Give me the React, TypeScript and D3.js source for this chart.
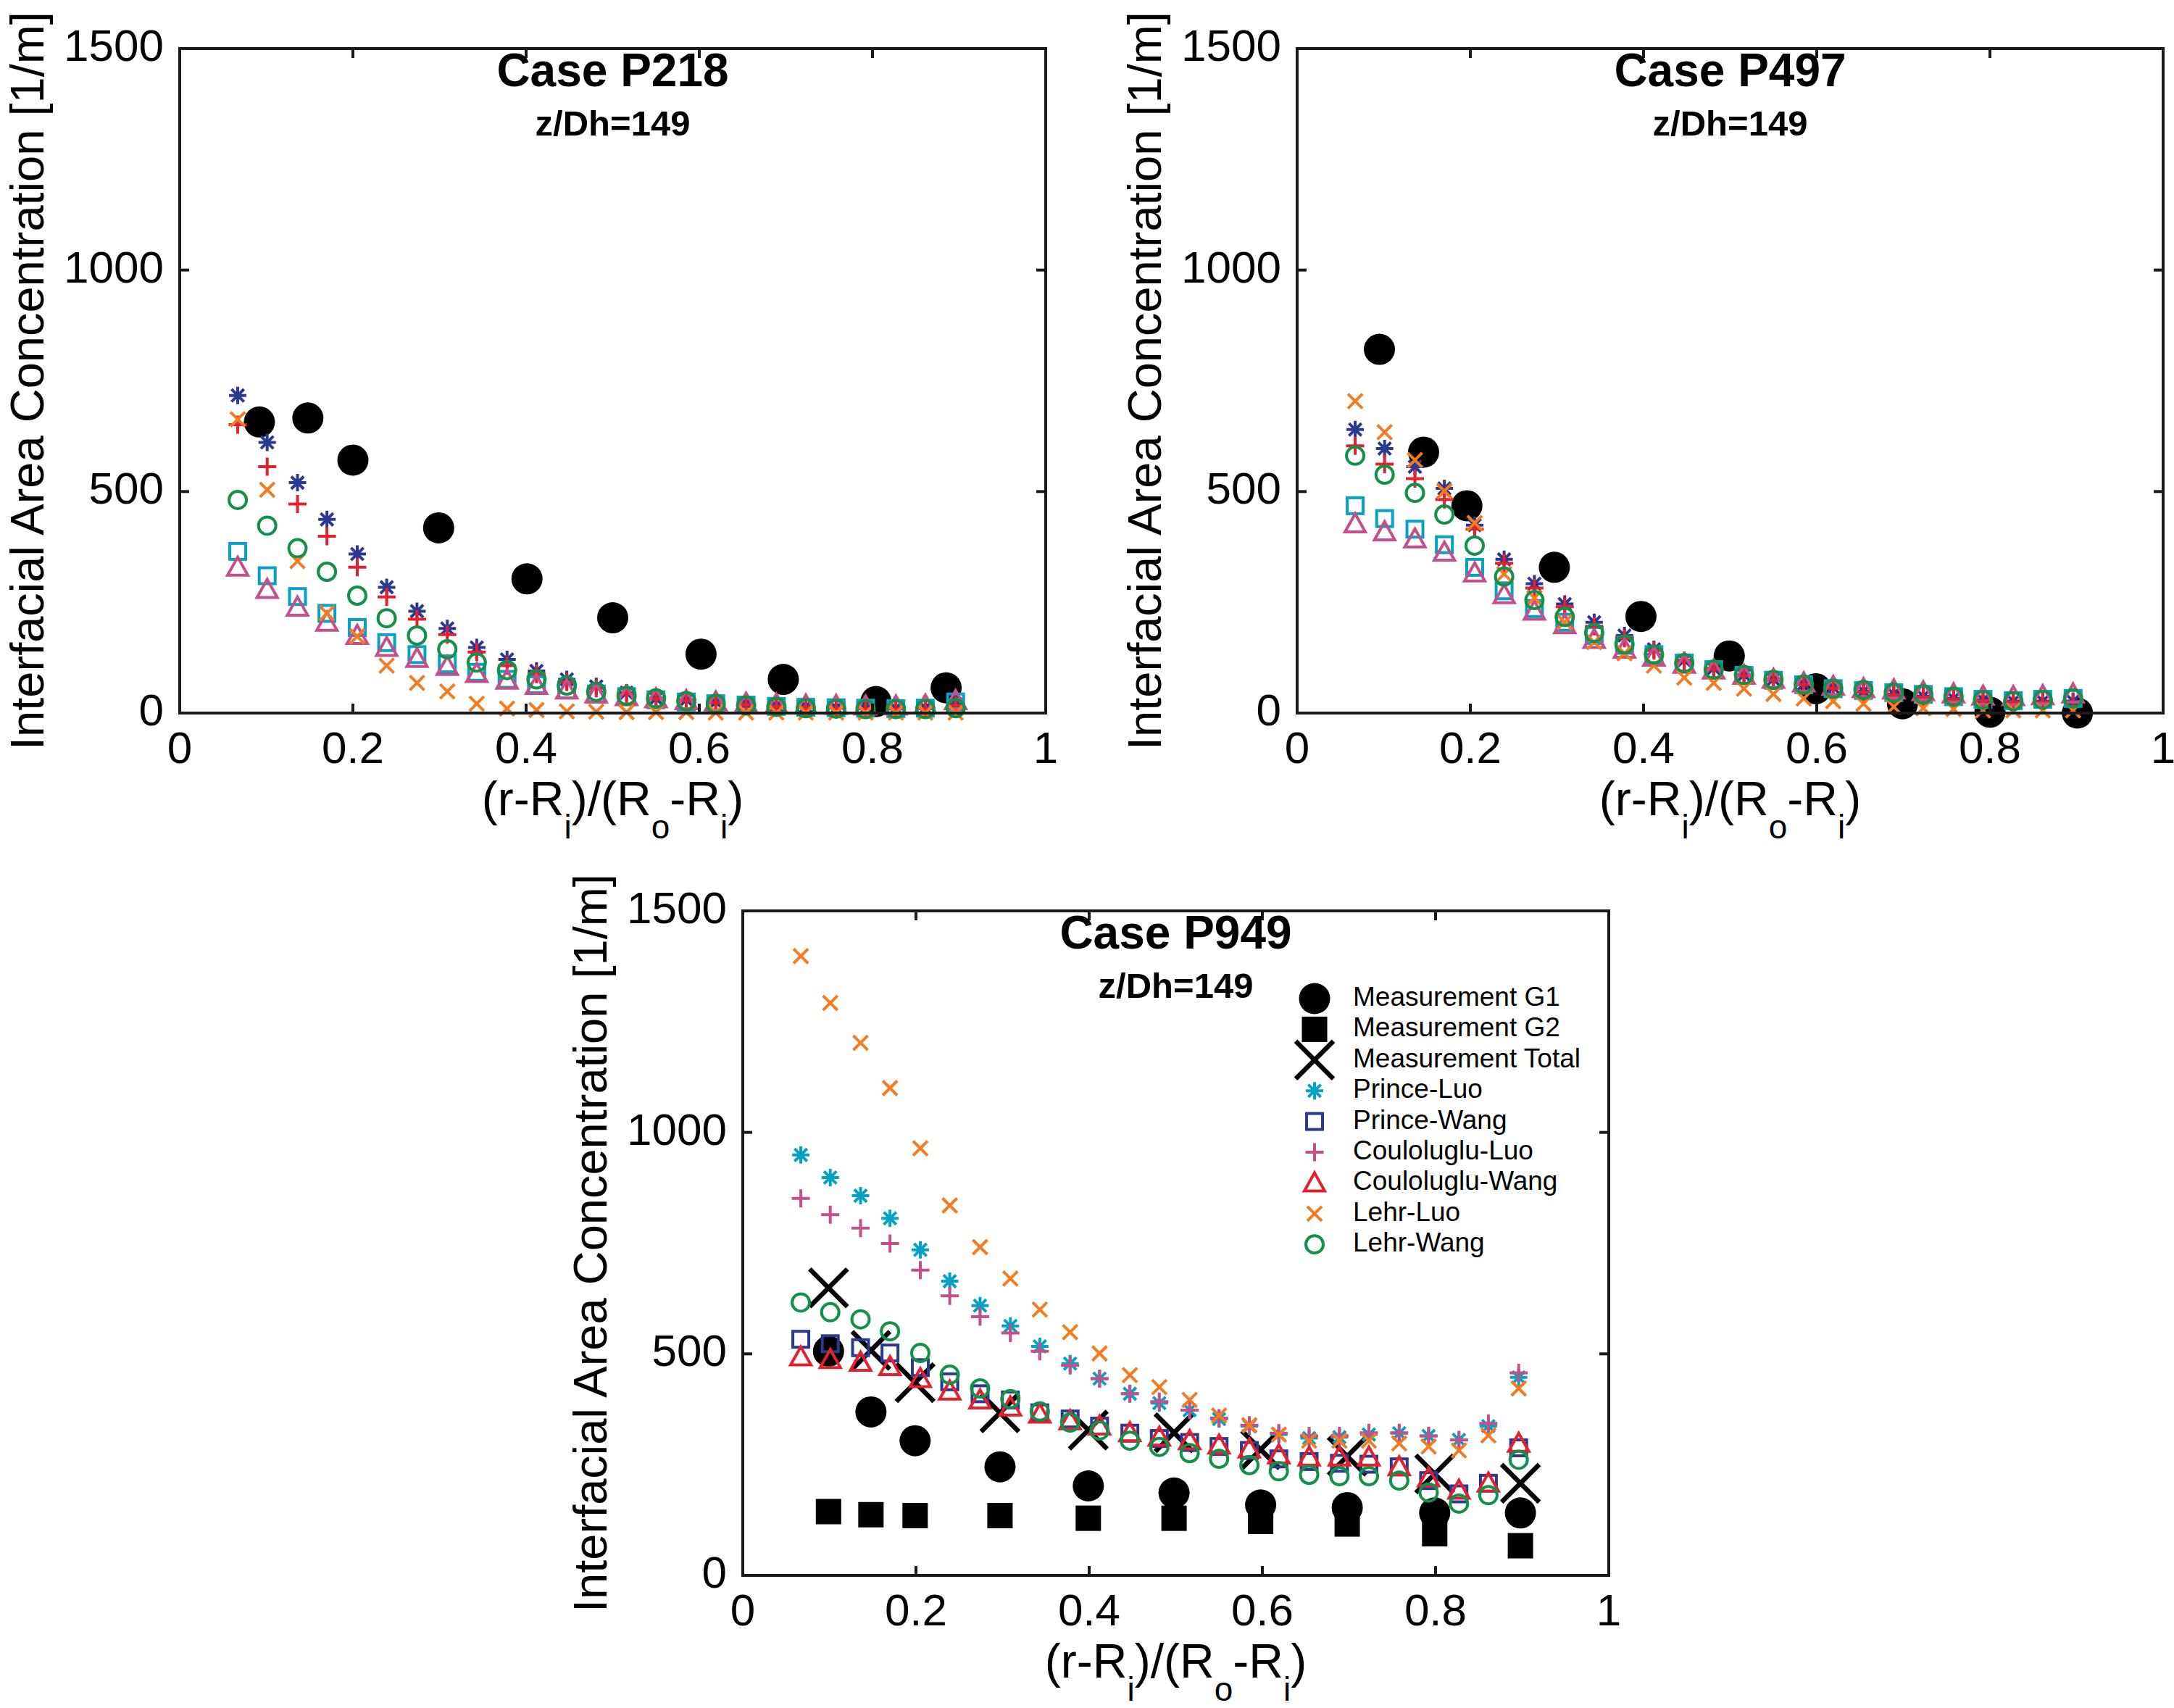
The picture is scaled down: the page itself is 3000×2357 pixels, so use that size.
import * as d3 from 'd3';
import { useEffect, useRef } from 'react';

// radial positions of the model points (same grid in all three cases)
const xModel = [0.067, 0.101, 0.136, 0.170, 0.205, 0.239, 0.274, 0.309, 0.343, 0.378, 0.412, 0.447, 0.481,
  0.516, 0.550, 0.585, 0.619, 0.654, 0.689, 0.723, 0.758, 0.792, 0.827, 0.861, 0.896];

// Case P218
const p218MeasX = [0.092, 0.148, 0.2, 0.299, 0.401, 0.5, 0.602, 0.697, 0.804, 0.885];
const p218G1 = [657, 666, 571, 418, 303, 215, 133, 76, 26, 57];
const p218Asterisk = [717, 611, 520, 437, 359, 284, 230, 191, 148, 121, 95, 76, 60, 46, 33, 30, 25, 21, 17, 15, 12, 12, 11, 12, 20];
const p218Square = [365, 310, 263, 225, 193, 159, 132, 111, 92, 76, 64, 52, 43, 37, 30, 25, 21, 18, 15, 13, 12, 11, 10, 11, 25];
const p218Plus = [651, 556, 472, 399, 329, 262, 212, 177, 138, 107, 88, 70, 56, 43, 32, 28, 23, 19, 15, 13, 11, 10, 9, 10, 17];
const p218Triangle = [329, 279, 239, 205, 175, 148, 123, 105, 89, 74, 62, 52, 43, 37, 32, 28, 25, 22, 20, 18, 17, 16, 16, 18, 28];
const p218Cross = [663, 504, 343, 225, 173, 107, 68, 49, 21, 10, 7, 4, 3, 2, 2, 2, 1, 1, 1, 1, 1, 1, 1, 1, 1];
const p218Circle = [481, 423, 372, 319, 265, 214, 175, 144, 114, 97, 76, 62, 48, 39, 33, 27, 21, 17, 14, 11, 10, 9, 9, 9, 11];

// Case P497
const p497MeasX = [0.095, 0.146, 0.196, 0.297, 0.397, 0.499, 0.599, 0.699, 0.8, 0.901];
const p497G1 = [821, 589, 468, 329, 218, 129, 55, 21, 2, 0];
const p497Asterisk = [640, 597, 556, 507, 424, 347, 292, 246, 205, 175, 144, 119, 101, 86, 76, 66, 58, 49, 43, 38, 33, 30, 27, 27, 27];
const p497Square = [468, 439, 415, 380, 329, 276, 236, 205, 175, 153, 132, 113, 98, 85, 74, 64, 55, 51, 46, 42, 37, 31, 28, 31, 33];
const p497Plus = [603, 562, 529, 482, 415, 338, 282, 240, 196, 169, 141, 117, 99, 84, 74, 64, 56, 47, 41, 36, 31, 28, 25, 25, 25];
const p497Triangle = [427, 409, 393, 363, 316, 267, 230, 199, 166, 144, 126, 110, 97, 85, 76, 68, 60, 55, 52, 48, 43, 38, 37, 39, 43];
const p497Cross = [704, 634, 571, 501, 429, 314, 260, 205, 160, 135, 107, 80, 68, 55, 43, 33, 27, 21, 14, 11, 9, 6, 6, 6, 6];
const p497Circle = [581, 538, 497, 448, 378, 308, 255, 217, 181, 155, 132, 113, 98, 86, 75, 64, 55, 52, 46, 42, 37, 30, 27, 30, 33];

// Case P949
const p949MeasX = [0.099, 0.148, 0.199, 0.297, 0.399, 0.498, 0.598, 0.698, 0.799, 0.898];
const p949G1 = [506, 369, 304, 245, 202, 186, 159, 153, 141, 141];
const p949G2 = [144, 137, 135, 135, 129, 129, 122, 116, 94, 67];
const p949Total = [649, 508, 435, 367, 328, 322, 284, 269, 229, 208];
const p949Asterisk = [949, 898, 857, 806, 735, 664, 609, 563, 517, 478, 444, 410, 389, 373, 353, 337, 318, 310, 312, 318, 321, 315, 306, 337, 447];
const p949Square = [533, 523, 514, 502, 469, 437, 410, 396, 367, 353, 337, 321, 309, 300, 291, 282, 263, 257, 253, 251, 245, 214, 184, 208, 288];
const p949Plus = [851, 814, 784, 749, 689, 631, 584, 547, 506, 474, 444, 410, 392, 373, 355, 339, 321, 315, 315, 322, 322, 315, 306, 343, 457];
const p949Triangle = [493, 487, 481, 471, 444, 416, 396, 380, 364, 349, 337, 322, 312, 304, 294, 285, 272, 267, 267, 267, 245, 220, 192, 208, 298];
const p949Cross = [1398, 1292, 1202, 1100, 964, 835, 741, 670, 600, 549, 501, 452, 425, 396, 361, 339, 318, 304, 304, 304, 298, 291, 282, 316, 422];
const p949Circle = [616, 594, 578, 551, 502, 453, 422, 398, 370, 345, 327, 304, 290, 276, 263, 249, 235, 227, 224, 224, 214, 187, 162, 181, 261];

const xTicks = [0, 0.2, 0.4, 0.6, 0.8, 1];
const xTickLabels = ['0', '0.2', '0.4', '0.6', '0.8', '1'];
const yTicks = [0, 500, 1000, 1500];

const navy = '#2b3990';
const cyan = '#06a2c4';
const red = '#e3202e';
const pink = '#c44f8b';
const orange = '#f47b20';
const green = '#14904a';

type Marker = 'dot' | 'block' | 'bigx' | 'asterisk' | 'square' | 'plus' | 'triangle' | 'x' | 'circle';

interface Series {
  name: string;
  marker: Marker;
  color: string;
  x: number[];
  y: number[];
}

interface Panel {
  title: string;
  left: number;
  top: number;
  series: Series[];
  legend: boolean;
}

const panels: Panel[] = [
  {
    title: 'Case P218', left: 248, top: 67, legend: false,
    series: [
      { name: 'Measurement G1', marker: 'dot', color: '#000', x: p218MeasX, y: p218G1 },
      { name: 'Prince-Luo', marker: 'asterisk', color: navy, x: xModel, y: p218Asterisk },
      { name: 'Prince-Wang', marker: 'square', color: cyan, x: xModel, y: p218Square },
      { name: 'Couloluglu-Luo', marker: 'plus', color: red, x: xModel, y: p218Plus },
      { name: 'Couloluglu-Wang', marker: 'triangle', color: pink, x: xModel, y: p218Triangle },
      { name: 'Lehr-Luo', marker: 'x', color: orange, x: xModel, y: p218Cross },
      { name: 'Lehr-Wang', marker: 'circle', color: green, x: xModel, y: p218Circle },
    ],
  },
  {
    title: 'Case P497', left: 1790, top: 67, legend: false,
    series: [
      { name: 'Measurement G1', marker: 'dot', color: '#000', x: p497MeasX, y: p497G1 },
      { name: 'Prince-Luo', marker: 'asterisk', color: navy, x: xModel, y: p497Asterisk },
      { name: 'Prince-Wang', marker: 'square', color: cyan, x: xModel, y: p497Square },
      { name: 'Couloluglu-Luo', marker: 'plus', color: red, x: xModel, y: p497Plus },
      { name: 'Couloluglu-Wang', marker: 'triangle', color: pink, x: xModel, y: p497Triangle },
      { name: 'Lehr-Luo', marker: 'x', color: orange, x: xModel, y: p497Cross },
      { name: 'Lehr-Wang', marker: 'circle', color: green, x: xModel, y: p497Circle },
    ],
  },
  {
    title: 'Case P949', left: 1025, top: 1257, legend: true,
    series: [
      { name: 'Measurement G1', marker: 'dot', color: '#000', x: p949MeasX, y: p949G1 },
      { name: 'Measurement G2', marker: 'block', color: '#000', x: p949MeasX, y: p949G2 },
      { name: 'Measurement Total', marker: 'bigx', color: '#000', x: p949MeasX, y: p949Total },
      { name: 'Prince-Luo', marker: 'asterisk', color: cyan, x: xModel, y: p949Asterisk },
      { name: 'Prince-Wang', marker: 'square', color: navy, x: xModel, y: p949Square },
      { name: 'Couloluglu-Luo', marker: 'plus', color: pink, x: xModel, y: p949Plus },
      { name: 'Couloluglu-Wang', marker: 'triangle', color: red, x: xModel, y: p949Triangle },
      { name: 'Lehr-Luo', marker: 'x', color: orange, x: xModel, y: p949Cross },
      { name: 'Lehr-Wang', marker: 'circle', color: green, x: xModel, y: p949Circle },
    ],
  },
];

const W = 3000;
const H = 2357;
const PW = 1195;
const PH = 917;
const FONT = '"Liberation Sans", Arial, Helvetica, sans-serif';

function drawMarker(g: d3.Selection<SVGGElement, unknown, null, undefined>, m: Marker, color: string, x: number, y: number) {
  const sw = 4;
  switch (m) {
    case 'dot':
      g.append('circle').attr('cx', x).attr('cy', y).attr('r', 21.5).attr('fill', '#000');
      break;
    case 'block':
      g.append('rect').attr('x', x - 17.5).attr('y', y - 17.5).attr('width', 35).attr('height', 35).attr('fill', '#000');
      break;
    case 'bigx': {
      const s = 26;
      g.append('path').attr('d', `M${x - s},${y - s}L${x + s},${y + s}M${x - s},${y + s}L${x + s},${y - s}`)
        .attr('stroke', '#000').attr('stroke-width', 6.5).attr('fill', 'none');
      break;
    }
    case 'asterisk': {
      const s = 12;
      const d = s * 0.72;
      g.append('path')
        .attr('d', `M${x},${y - s}L${x},${y + s}M${x - s},${y}L${x + s},${y}M${x - d},${y - d}L${x + d},${y + d}M${x - d},${y + d}L${x + d},${y - d}`)
        .attr('stroke', color).attr('stroke-width', sw).attr('fill', 'none');
      break;
    }
    case 'square':
      g.append('rect').attr('x', x - 11).attr('y', y - 11).attr('width', 22).attr('height', 22)
        .attr('stroke', color).attr('stroke-width', sw).attr('fill', 'none');
      break;
    case 'plus': {
      const s = 12.5;
      g.append('path').attr('d', `M${x - s},${y}L${x + s},${y}M${x},${y - s}L${x},${y + s}`)
        .attr('stroke', color).attr('stroke-width', sw).attr('fill', 'none');
      break;
    }
    case 'triangle':
      g.append('path').attr('d', `M${x},${y - 14}L${x + 14},${y + 11}L${x - 14},${y + 11}Z`)
        .attr('stroke', color).attr('stroke-width', sw).attr('fill', 'none').attr('stroke-linejoin', 'miter');
      break;
    case 'x': {
      const s = 10;
      g.append('path').attr('d', `M${x - s},${y - s}L${x + s},${y + s}M${x - s},${y + s}L${x + s},${y - s}`)
        .attr('stroke', color).attr('stroke-width', sw).attr('fill', 'none');
      break;
    }
    case 'circle':
      g.append('circle').attr('cx', x).attr('cy', y).attr('r', 12)
        .attr('stroke', color).attr('stroke-width', sw).attr('fill', 'none');
      break;
  }
}

export default function App() {
  const ref = useRef<SVGSVGElement | null>(null);

  useEffect(() => {
    if (!ref.current) return;
    const svg = d3.select(ref.current);
    svg.selectAll('*').remove();

    svg.append('rect').attr('width', W).attr('height', H).attr('fill', '#fff');

    panels.forEach((p) => {
      const x = d3.scaleLinear().domain([0, 1]).range([0, PW]);
      const y = d3.scaleLinear().domain([0, 1500]).range([PH, 0]);
      const g = svg.append('g').attr('transform', `translate(${p.left},${p.top})`);

      // data
      const marks = g.append('g');
      p.series.forEach((s) => {
        s.y.forEach((v, i) => drawMarker(marks, s.marker, s.color, x(s.x[i]), y(v)));
      });

      // box with inward ticks on all sides
      g.append('rect').attr('width', PW).attr('height', PH)
        .attr('fill', 'none').attr('stroke', '#1a1a1a').attr('stroke-width', 4);
      xTicks.forEach((t, i) => {
        g.append('line').attr('x1', x(t)).attr('x2', x(t)).attr('y1', PH).attr('y2', PH - 13)
          .attr('stroke', '#1a1a1a').attr('stroke-width', 4);
        g.append('line').attr('x1', x(t)).attr('x2', x(t)).attr('y1', 0).attr('y2', 13)
          .attr('stroke', '#1a1a1a').attr('stroke-width', 4);
        g.append('text').attr('x', x(t)).attr('y', PH + 69).attr('text-anchor', 'middle')
          .attr('font-family', FONT).attr('font-size', 62).text(xTickLabels[i]);
      });
      yTicks.forEach((t) => {
        g.append('line').attr('x1', 0).attr('x2', 13).attr('y1', y(t)).attr('y2', y(t))
          .attr('stroke', '#1a1a1a').attr('stroke-width', 4);
        g.append('line').attr('x1', PW).attr('x2', PW - 13).attr('y1', y(t)).attr('y2', y(t))
          .attr('stroke', '#1a1a1a').attr('stroke-width', 4);
        g.append('text').attr('x', -22).attr('y', y(t) + 17).attr('text-anchor', 'end')
          .attr('font-family', FONT).attr('font-size', 62).text(String(t));
      });

      // titles
      g.append('text').attr('x', PW / 2).attr('y', 52).attr('text-anchor', 'middle')
        .attr('font-family', FONT).attr('font-weight', 'bold').attr('font-size', 64).text(p.title);
      g.append('text').attr('x', PW / 2).attr('y', 120).attr('text-anchor', 'middle')
        .attr('font-family', FONT).attr('font-weight', 'bold').attr('font-size', 49).text('z/Dh=149');

      // axis labels
      g.append('text').attr('transform', `translate(-188,${PH / 2}) rotate(-90)`).attr('text-anchor', 'middle')
        .attr('font-family', FONT).attr('font-size', 65).text('Interfacial Area Concentration [1/m]');

      const xl = g.append('text').attr('x', PW / 2).attr('y', PH + 141).attr('text-anchor', 'middle')
        .attr('font-family', FONT).attr('font-size', 66);
      const parts: Array<[string, boolean]> = [['(r-R', false], ['i', true], [')/(R', false], ['o', true], ['-R', false], ['i', true], [')', false]];
      let prevSub = false;
      parts.forEach(([t, sub]) => {
        const dy = (sub ? 32 : 0) - (prevSub ? 32 : 0);
        xl.append('tspan').attr('dy', dy).attr('font-size', sub ? 46 : 66).text(t);
        prevSub = sub;
      });

      if (p.legend) {
        const lg = g.append('g').attr('transform', 'translate(789,121)');
        p.series.forEach((s, i) => {
          const ry = i * 42.4;
          drawMarker(lg, s.marker, s.color, 0, ry);
          lg.append('text').attr('x', 53).attr('y', ry + 10).attr('font-family', FONT).attr('font-size', 37).text(s.name);
        });
      }
    });
  }, []);

  return (
    <svg ref={ref} width={W} height={H} viewBox={`0 0 ${W} ${H}`}
      style={{ position: 'absolute', left: 0, top: 0, display: 'block' }} />
  );
}
